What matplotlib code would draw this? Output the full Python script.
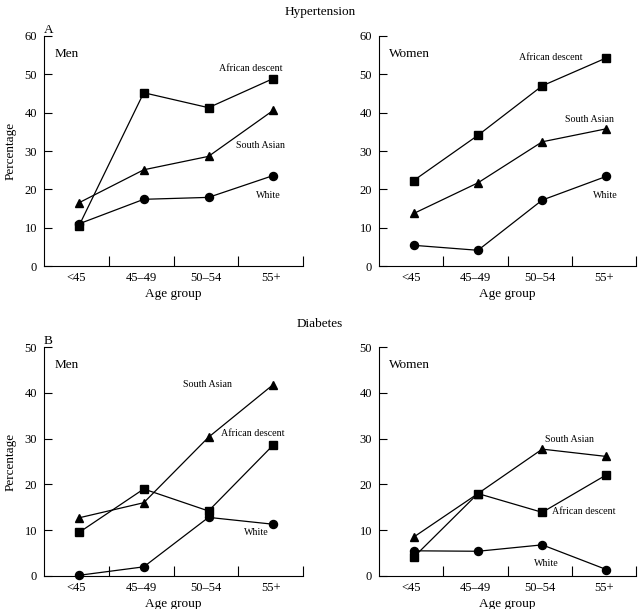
import numpy as np
import matplotlib
matplotlib.use("Agg")
import matplotlib.pyplot as plt

plt.rcParams["font.family"] = ["Liberation Serif", "DejaVu Serif"]

age_groups = ["<45", "45\u201349", "50\u201354", "55+"]
series_names = ["African descent", "South Asian", "White"]
series_markers = {"African descent": "s", "South Asian": "^", "White": "o"}

# hypertension, %
hyp_men_african = [10.5, 45.2, 41.3, 48.9]
hyp_men_sasian = [16.5, 25.1, 28.6, 40.6]
hyp_men_white = [11.0, 17.4, 17.9, 23.6]
hyp_women_african = [22.3, 34.1, 47.0, 54.3]
hyp_women_sasian = [13.7, 21.7, 32.4, 35.8]
hyp_women_white = [5.4, 4.1, 17.2, 23.4]

# diabetes, %
dia_men_african = [9.5, 19.0, 14.2, 28.6]
dia_men_sasian = [12.7, 16.0, 30.3, 41.8]
dia_men_white = [0.15, 2.0, 12.8, 11.3]
dia_women_african = [4.1, 18.0, 13.9, 22.1]
dia_women_sasian = [8.5, 18.0, 27.7, 26.1]
dia_women_white = [5.5, 5.4, 6.8, 1.4]

# label placement (x in category units, y in %)
hyp_men_labels = {"African descent": (3.2, 51.4), "South Asian": (3.35, 31.5), "White": (3.47, 18.3)}
hyp_women_labels = {"African descent": (2.68, 54.4), "South Asian": (3.27, 38.3), "White": (3.53, 18.5)}
dia_men_labels = {"African descent": (3.23, 31.2), "South Asian": (2.52, 41.9), "White": (3.28, 9.4)}
dia_women_labels = {"African descent": (3.19, 14.0), "South Asian": (2.96, 29.7), "White": (2.6, 2.8)}


def draw_panel(ax, data, labels, ymax, sex, ylabel=True, letter=None):
    x = np.arange(len(age_groups)) + 0.54
    for name, vals in zip(series_names, data):
        ax.plot(x, vals, color="black", lw=0.9, marker=series_markers[name],
                ms=5.8, clip_on=False)
        lx, ly = labels[name]
        ax.text(lx, ly, name, fontsize=7.2, ha="center", va="center")
    ax.set_xlim(0, 4)
    ax.set_ylim(0, ymax)
    ax.spines[["top", "right"]].set_visible(False)
    ax.spines[["left", "bottom"]].set_linewidth(0.8)
    ax.set_xticks([1, 2, 3, 4])
    ax.set_xticklabels([])
    ax.set_xticks(np.arange(len(age_groups)) + 0.5, minor=True)
    ax.set_xticklabels(age_groups, minor=True)
    ax.tick_params(axis="x", which="major", direction="in", length=7, width=0.8)
    ax.tick_params(axis="x", which="minor", length=0, pad=4, labelsize=9)
    ax.set_yticks(np.arange(0, ymax + 1, 10))
    ax.tick_params(axis="y", direction="in", length=6, width=0.8, labelsize=9, pad=5)
    ax.set_xlabel("Age group", fontsize=9.5, labelpad=3)
    if ylabel:
        ax.set_ylabel("Percentage", fontsize=9.5, labelpad=6)
    ax.text(0.04, 0.92, sex, transform=ax.transAxes, fontsize=9.5, ha="left", va="center")
    if letter:
        ax.text(0.0, 1.0, letter, transform=ax.transAxes, fontsize=9.5,
                ha="left", va="bottom")


fig = plt.figure(figsize=(6.4, 6.09), dpi=100)
ax1 = fig.add_axes([0.0688, 0.5632, 0.4047, 0.3777])
ax2 = fig.add_axes([0.5922, 0.5632, 0.4016, 0.3777])
ax3 = fig.add_axes([0.0688, 0.0542, 0.4047, 0.3760])
ax4 = fig.add_axes([0.5922, 0.0542, 0.4016, 0.3760])

draw_panel(ax1, [hyp_men_african, hyp_men_sasian, hyp_men_white], hyp_men_labels, 60, "Men", letter="A")
draw_panel(ax2, [hyp_women_african, hyp_women_sasian, hyp_women_white], hyp_women_labels, 60, "Women", ylabel=False)
draw_panel(ax3, [dia_men_african, dia_men_sasian, dia_men_white], dia_men_labels, 50, "Men", letter="B")
draw_panel(ax4, [dia_women_african, dia_women_sasian, dia_women_white], dia_women_labels, 50, "Women", ylabel=False)

fig.text(0.5, 1 - 12 / 609, "Hypertension", fontsize=9.5, ha="center", va="center")
fig.text(0.5, 1 - 324 / 609, "Diabetes", fontsize=9.5, ha="center", va="center")

fig.savefig("out.png", dpi=100)
